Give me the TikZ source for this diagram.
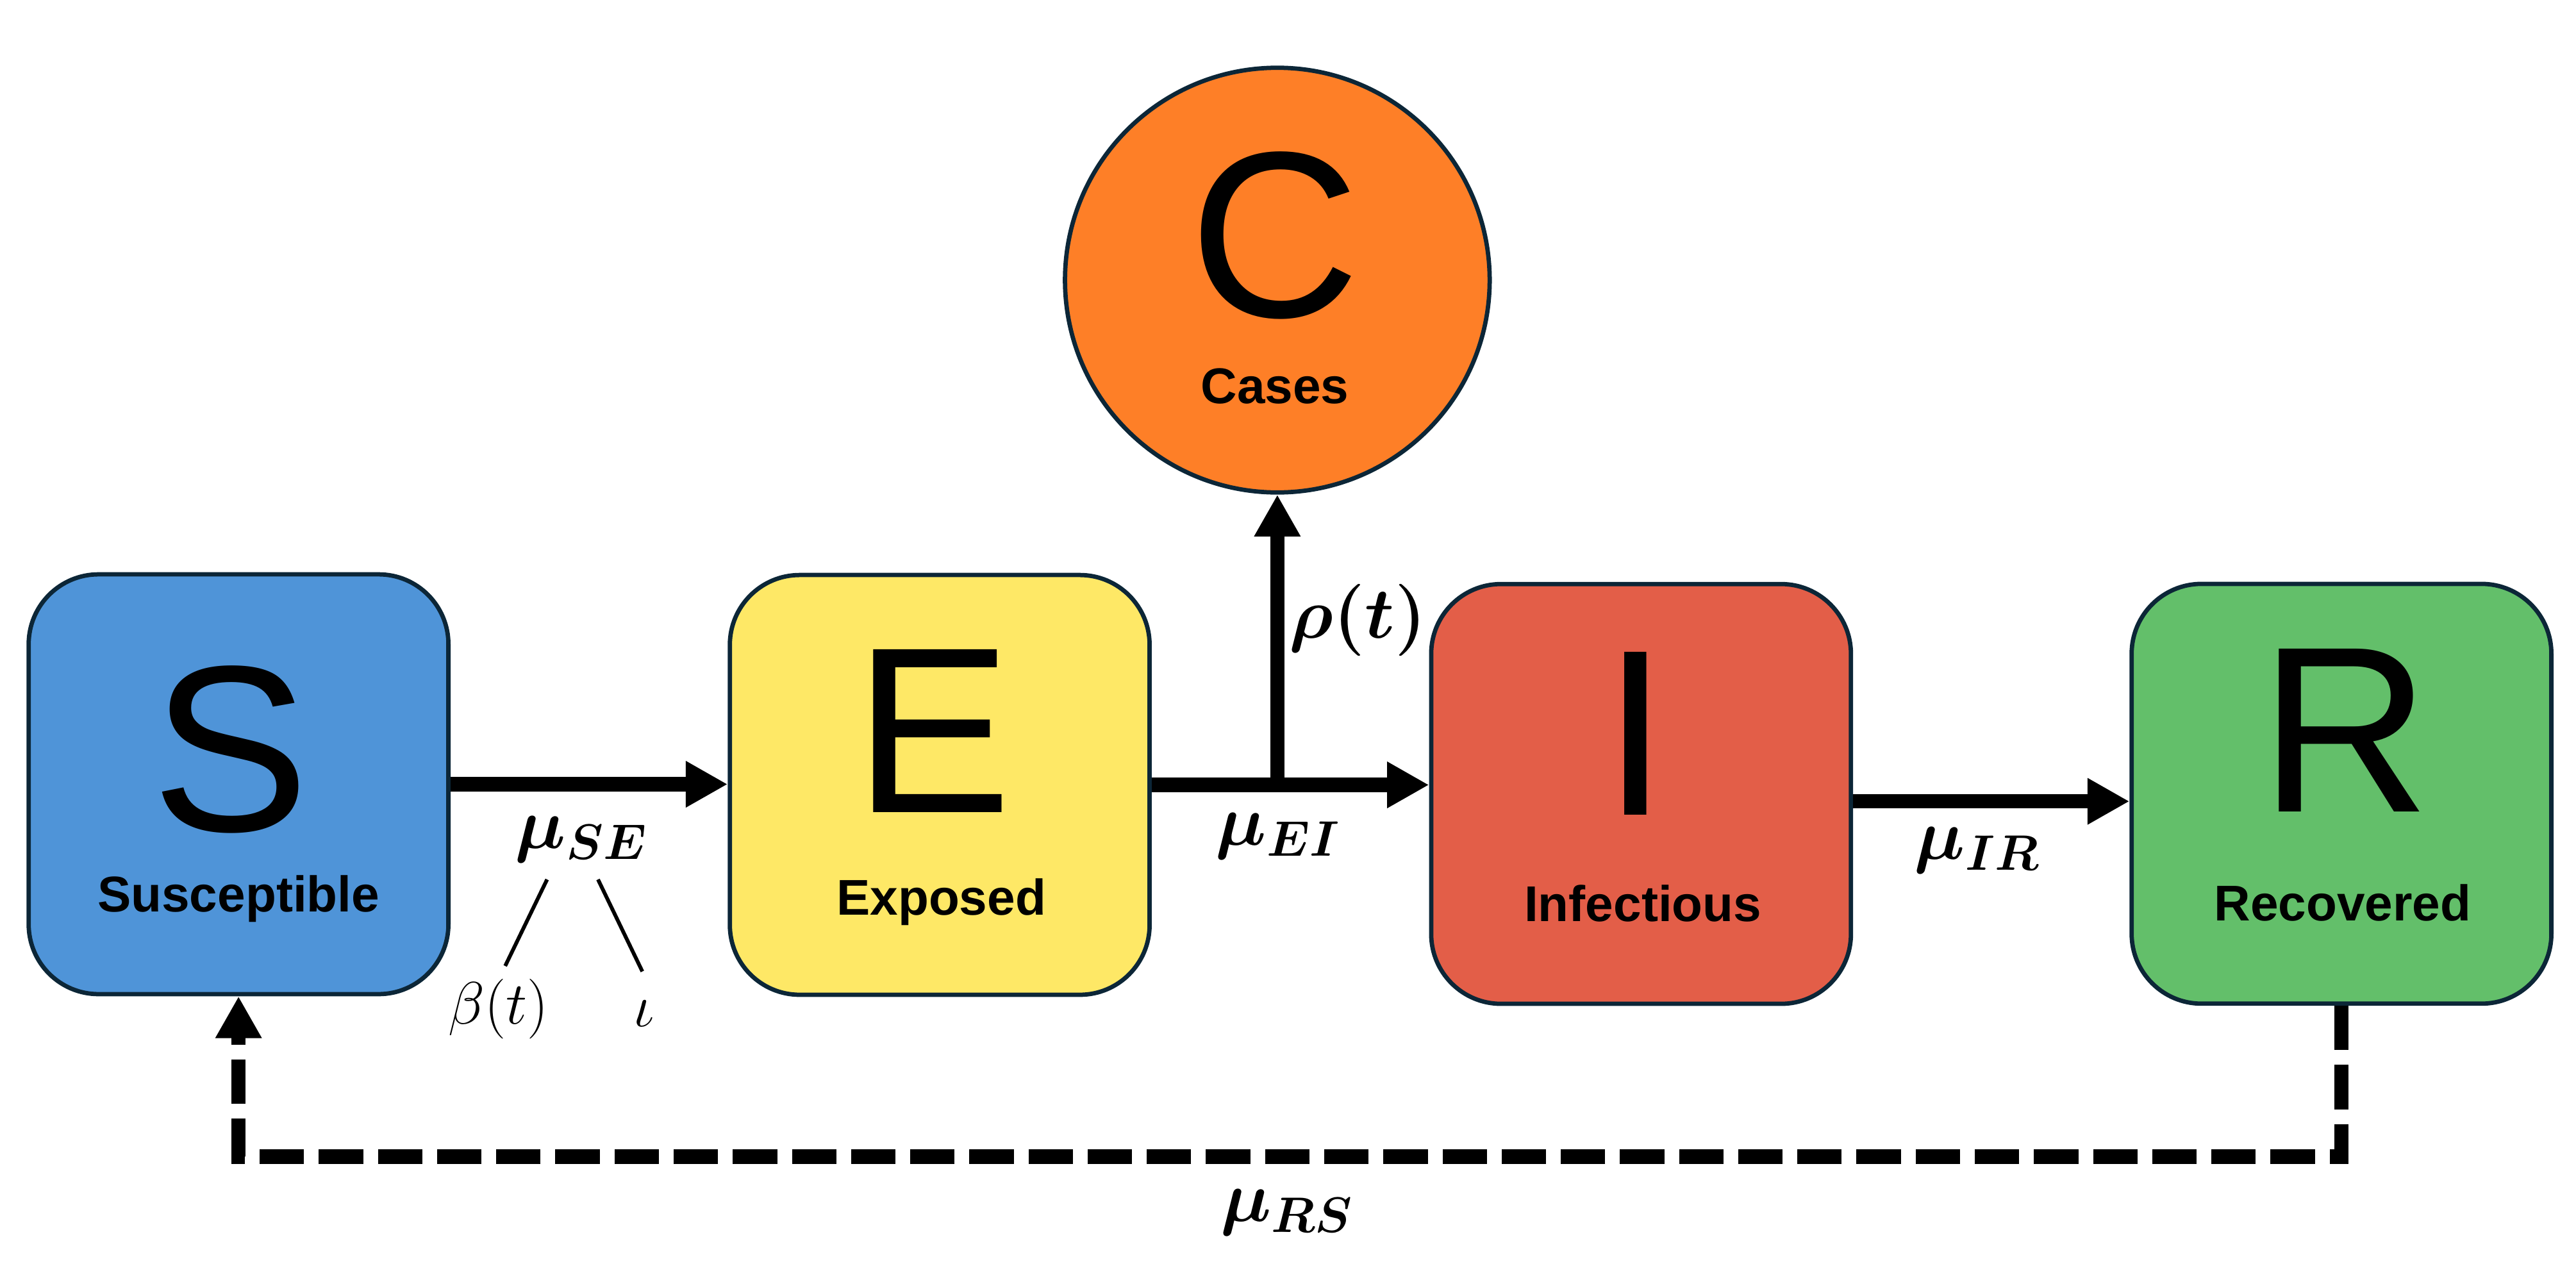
\documentclass[tikz,border=0pt]{standalone}
\usepackage{amsmath,bm}
\usepackage{fontspec}
\setmainfont{Liberation Sans}
\usepackage{xcolor}
\usepackage{tikz}
\usetikzlibrary{arrows.meta, positioning, calc}

\definecolor{edgenavy}{HTML}{0C2637}
\definecolor{susblue}{HTML}{4F94D8}
\definecolor{expyellow}{HTML}{FEE866}
\definecolor{infred}{HTML}{E35E48}
\definecolor{recgreen}{HTML}{63BF6A}
\definecolor{caseorange}{HTML}{FE7F27}

\begin{document}
\begin{tikzpicture}[
  compartment/.style={rectangle, rounded corners=0.85cm, draw=edgenavy, line width=1.5pt,
    minimum width=5.11cm, minimum height=5.11cm, inner sep=0pt},
  pool/.style={circle, draw=edgenavy, line width=1.5pt, minimum size=5.17cm, inner sep=0pt},
  letter/.style={anchor=base, inner sep=0pt, font=\fontsize{82}{82}\selectfont},
  caption/.style={anchor=base, inner sep=0pt, font=\bfseries\fontsize{17.4}{20}\selectfont},
  flow/.style={line width=0.175cm, -{Triangle[length=0.51cm,width=0.53cm]}},
  rate/.style={inner sep=0pt, font=\fontsize{23}{27}\selectfont},
  param/.style={inner sep=0pt, font=\fontsize{19.5}{23}\selectfont},
  tree/.style={line width=1.3pt}
]
  \useasboundingbox (0,0) rectangle (31.36,15.38);

  % compartments
  \node[compartment, fill=susblue]   (S) at (2.904,5.833)  {};
  \node[compartment, fill=expyellow] (E) at (11.44,5.825)  {};
  \node[compartment, fill=infred]    (I) at (19.978,5.715) {};
  \node[compartment, fill=recgreen]  (R) at (28.505,5.717) {};
  \node[pool, fill=caseorange]       (C) at (15.55,11.97)  {};

  \node[letter]  (Sl) at (2.81,5.26)   {S};
  \node[caption] (Sn) at (2.904,4.28)  {Susceptible};
  \node[letter]  (El) at (11.36,5.486) {E};
  \node[caption] (En) at (11.46,4.24)  {Exposed};
  \node[letter]  (Il) at (19.91,5.46)  {I};
  \node[caption] (In) at (20.0,4.16)   {Infectious};
  \node[letter]  (Rl) at (28.55,5.5)   {R};
  \node[caption] (Rn) at (28.52,4.174) {Recovered};
  \node[letter]  (Cl) at (15.52,11.52) {C};
  \node[caption] (Cn) at (15.52,10.47) {Cases};

  % flows
  \draw[flow] (S.east) -- (S.east -| E.west);
  \draw[flow] (E.east) -- (E.east -| I.west);
  \coordinate (split) at (C.south |- E.east);
  \draw[flow] (split) -- (C.south);
  \coordinate (irfrom) at ([yshift=-0.09cm]I.east);
  \draw[flow] (irfrom) -- (irfrom -| R.west);

  % waning immunity
  \coordinate (rturn) at (R.south |- 0,1.3);
  \draw[flow, dash pattern=on 0.54cm off 0.18cm] (R.south) -- (rturn) -| (S.south);

  % rates
  \node[rate] (mSE) at (7.08,5.16)  {$\bm{\mu_{SE}}$};
  \node[rate] (mEI) at (15.56,5.2)  {$\bm{\mu_{EI}}$};
  \node[rate] (mIR) at (24.07,5.03) {$\bm{\mu_{IR}}$};
  \node[rate] (mRS) at (15.67,0.62) {$\bm{\mu_{RS}}$};
  \node[rate] (rho) at (16.53,7.83) {$\bm{\rho(t)}$};

  \node[param] (beta) at (6.07,3.1)  {$\beta(t)$};
  \node[param] (iota) at (7.84,3.04) {$\iota$};
  \draw[tree] ([xshift=-0.42cm,yshift=-0.2cm]mSE.south) -- ([xshift=0.08cm,yshift=0.15cm]beta.north);
  \draw[tree] ([xshift=0.2cm,yshift=-0.2cm]mSE.south) -- ([xshift=-0.02cm,yshift=0.35cm]iota.north);
\end{tikzpicture}
\end{document}
